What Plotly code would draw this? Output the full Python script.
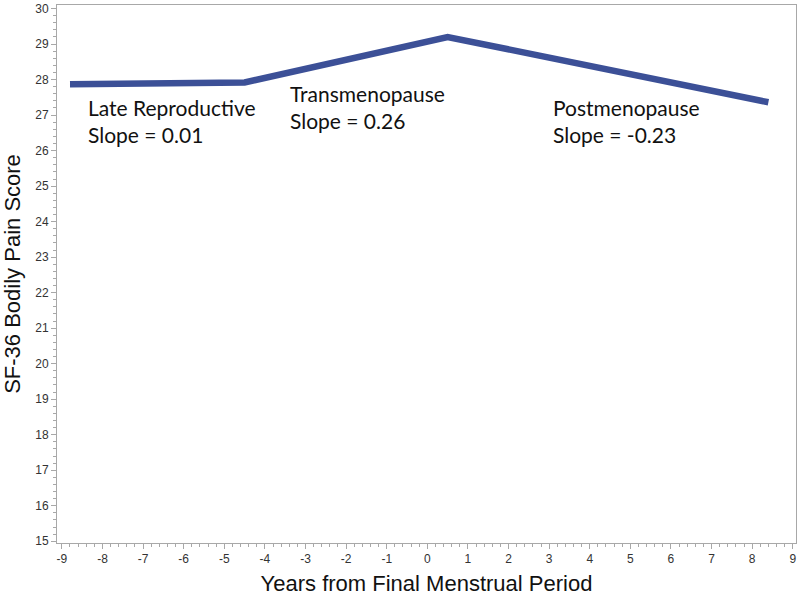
import plotly.graph_objects as go

years = [-8.8, -4.5, 0.5, 8.4]
pain_score = [27.87, 27.92, 29.2, 27.36]

phase_labels = ["Late Reproductive<br>Slope = 0.01", "Transmenopause<br>Slope = 0.26", "Postmenopause<br>Slope = -0.23"]
label_x = [-8.4, -3.42, 3.05]
label_y = [26.82, 27.22, 26.82]

x_ticks = list(range(-9, 10))
y_ticks = list(range(15, 31))

fig = go.Figure()
fig.add_trace(go.Scatter(x=years, y=pain_score, mode="lines",
                         line=dict(color="#3C5097", width=6.5), hoverinfo="skip"))

for t, xx, yy in zip(phase_labels, label_x, label_y):
    fig.add_annotation(x=xx, y=yy, text=t, showarrow=False, xanchor="left", yanchor="middle",
                       align="left", font=dict(family="Lato, Open Sans, sans-serif", size=21, color="#111"))

axis_common = dict(showgrid=False, zeroline=False, showline=True, linecolor="#a8a8a8", linewidth=1,
                   mirror=True, ticks="outside", ticklen=5, tickcolor="#a8a8a8", automargin=False,
                   tickfont=dict(family="Liberation Sans, Arial, sans-serif", size=12, color="#333"))

fig.update_xaxes(range=[-9.12, 9.08], tickvals=x_ticks, ticktext=[str(v) for v in x_ticks], **axis_common,
                 minor=dict(ticks="outside", ticklen=3, tickcolor="#a8a8a8", dtick=0.2, tick0=0),
                 title=dict(text="Years from Final Menstrual Period", standoff=10,
                            font=dict(family="Liberation Sans, Arial, sans-serif", size=22, color="#111")))
fig.update_yaxes(range=[14.95, 30.1], tickvals=y_ticks, ticktext=[str(v) for v in y_ticks], **axis_common,
                 minor=dict(ticks="outside", ticklen=3, tickcolor="#a8a8a8", dtick=0.2, tick0=0),
                 title=dict(text="SF-36 Bodily Pain Score", standoff=8,
                            font=dict(family="Liberation Sans, Arial, sans-serif", size=22, color="#111")))

fig.update_layout(width=800, height=600, margin=dict(l=57, r=4, t=5, b=57),
                  plot_bgcolor="white", paper_bgcolor="white", showlegend=False)

fig.write_html("out.html", config={"displayModeBar": False},
               post_script="document.body.style.margin='0';document.body.style.overflow='hidden';")
